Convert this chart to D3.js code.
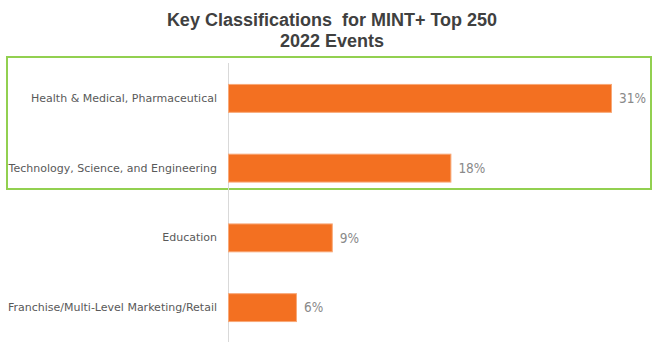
<!DOCTYPE html>
<html>
<head>
<meta charset="utf-8">
<script src="https://cdn.jsdelivr.net/npm/d3@7"></script>
<style>
  body { margin: 0; background: #fff; }
</style>
</head>
<body>
<div id="chart"></div>
<script>
// data
const categories = [
  "Health & Medical, Pharmaceutical",
  "Technology, Science, and Engineering",
  "Education",
  "Franchise/Multi-Level Marketing/Retail"
];
const shares = [31, 18, 8.4, 5.5];
const shareLabels = ["31%", "18%", "9%", "6%"];
const titleLines = ["Key Classifications  for MINT+ Top 250", "2022 Events"];

const W = 665, H = 354;

const svg = d3.select("#chart").append("svg")
  .attr("width", W)
  .attr("height", H);

// title
svg.append("text")
  .attr("x", 332)
  .attr("y", 26)
  .attr("text-anchor", "middle")
  .style("font-family", "Arial, 'Liberation Sans', sans-serif")
  .style("font-weight", "bold")
  .style("font-size", "18px")
  .style("fill", "#404040")
  .style("white-space", "pre")
  .text(titleLines[0]);

svg.append("text")
  .attr("x", 332)
  .attr("y", 47)
  .attr("text-anchor", "middle")
  .style("font-family", "Arial, 'Liberation Sans', sans-serif")
  .style("font-weight", "bold")
  .style("font-size", "18px")
  .style("fill", "#404040")
  .text(titleLines[1]);

// scales
const x = d3.scaleLinear().domain([0, 31]).range([228, 611]);
const y = d3.scaleBand()
  .domain(categories)
  .range([63.5, 342.5])
  .paddingInner(0.6)
  .paddingOuter(0.3);

// highlight box round the top two
svg.append("rect")
  .attr("x", 7)
  .attr("y", 57)
  .attr("width", 644)
  .attr("height", 132)
  .attr("fill", "none")
  .attr("stroke", "#92d050")
  .attr("stroke-width", 2);

// axis line
svg.append("line")
  .attr("x1", 228.5).attr("x2", 228.5)
  .attr("y1", 63).attr("y2", 342)
  .attr("stroke", "#d9d9d9")
  .attr("stroke-width", 1);

// bars
svg.selectAll(".bar")
  .data(categories)
  .join("rect")
  .attr("class", "bar")
  .attr("x", x(0) + 0.5)
  .attr("y", d => y(d))
  .attr("width", (d, i) => x(shares[i]) - x(0))
  .attr("height", y.bandwidth())
  .attr("fill", "#f37021")
  .attr("stroke", "#f8a877")
  .attr("stroke-width", 1);

// category labels
const yAxis = d3.axisLeft(y).tickSize(0).tickPadding(0);
const ax = svg.append("g")
  .attr("transform", "translate(217,0)")
  .call(yAxis);
ax.select(".domain").remove();
ax.selectAll("text")
  .style("font-family", "'DejaVu Sans', sans-serif")
  .style("font-size", "11px")
  .style("fill", "#595959");

// value labels
svg.selectAll(".val")
  .data(categories)
  .join("text")
  .attr("class", "val")
  .attr("x", (d, i) => x(shares[i]) + 8)
  .attr("y", d => y(d) + y.bandwidth() / 2)
  .attr("dy", "0.36em")
  .style("font-family", "'DejaVu Sans Condensed', 'DejaVu Sans', sans-serif")
  .style("font-size", "13.5px")
  .style("fill", "#8a8a8a")
  .text((d, i) => shareLabels[i]);
</script>
</body>
</html>
